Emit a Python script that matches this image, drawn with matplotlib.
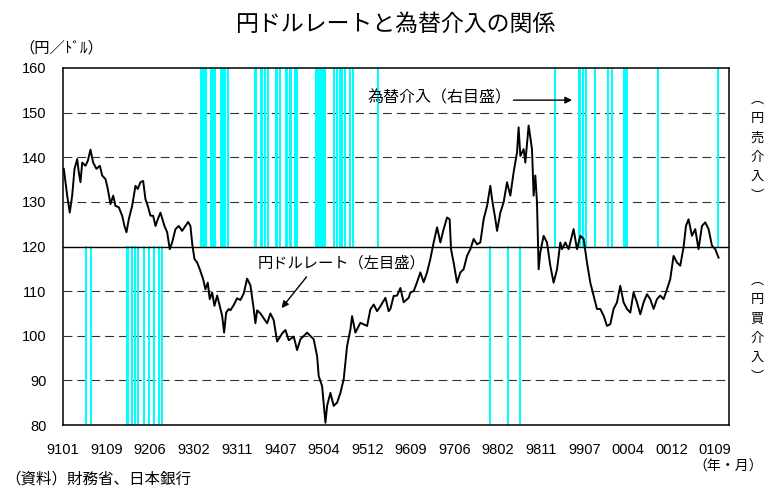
import matplotlib

matplotlib.use("Agg")
import matplotlib.pyplot as plt
import numpy as np

plt.rcParams["font.family"] = ["Noto Sans CJK JP", "DejaVu Sans"]

# yen/dollar rate, x = months counted from 1991-01
rate_month = [
    0.16, 0.49, 0.82, 1.33, 1.80, 2.26, 2.79, 3.10, 3.43, 3.77, 4.41, 4.87, 5.39, 5.92,
    6.57, 7.22, 7.69, 8.34, 8.79, 9.32, 9.85, 10.30, 10.95, 11.61, 12.06, 12.46, 12.91,
    13.57, 14.22, 14.67, 15.20, 15.73, 16.18, 16.64, 17.16, 17.69, 18.15, 18.60, 19.13,
    19.52, 19.91, 20.44, 20.95, 21.42, 22.07, 22.72, 23.38, 24.03, 24.56, 25.01, 25.40,
    25.80, 26.33, 26.84, 27.50, 27.95, 28.41, 28.80, 29.27, 29.72, 30.25, 30.76, 31.23,
    31.62, 32.02, 32.53, 32.86, 33.51, 34.17, 34.82, 35.47, 36.13, 36.78, 37.43, 37.76,
    38.10, 38.74, 39.39, 40.06, 40.70, 41.35, 42.02, 43.00, 43.65, 44.30, 45.28, 45.94,
    46.59, 47.90, 49.20, 49.87, 50.18, 50.85, 51.50, 51.83, 52.48, 53.12, 53.79, 54.44,
    55.08, 55.75, 56.40, 56.73, 57.38, 58.36, 59.68, 60.32, 60.97, 61.64, 62.28, 63.27,
    63.91, 64.25, 64.89, 65.56, 66.21, 66.86, 67.84, 68.17, 68.82, 69.48, 70.13, 70.78,
    71.45, 72.09, 72.74, 73.41, 74.06, 74.70, 75.37, 75.88, 76.15, 76.66, 77.33, 77.98,
    78.62, 79.29, 79.94, 80.59, 81.25, 81.90, 82.55, 83.22, 83.86, 84.20, 84.85, 85.18,
    85.83, 86.47, 87.14, 87.79, 88.43, 89.10, 89.41, 89.75, 90.40, 90.73, 91.38, 92.04,
    92.36, 92.69, 93.02, 93.34, 93.67, 94.32, 94.98, 95.63, 96.28, 96.95, 97.60, 97.93,
    98.58, 99.22, 100.20, 100.87, 101.52, 102.17, 102.83, 103.48, 104.13, 104.79, 105.44,
    106.09, 106.76, 107.40, 108.05, 108.72, 109.36, 110.01, 110.68, 111.33, 111.97,
    112.64, 113.29, 113.94, 114.60, 115.25, 115.90, 116.56, 117.21, 117.86, 118.53,
    119.17, 119.82, 120.49, 121.13, 121.78, 122.25, 122.76, 123.43, 124.08, 124.72,
    125.39, 126.04, 126.69, 127.35, 128.00, 128.65,
]
rate_yen = [
    137.4, 134.4, 131.4, 127.6, 131.4, 137.4, 139.6, 136.6, 134.4, 138.8, 138.1, 139.2, 141.7, 138.8,
    137.4, 138.1, 135.9, 135.1, 132.9, 129.5, 131.4, 129.1, 128.8, 126.9, 124.6, 123.2, 126.1,
    129.1, 133.6, 132.9, 134.4, 134.7, 130.6, 129.1, 126.9, 126.9, 124.6, 126.1, 127.6,
    126.1, 124.6, 123.2, 119.4, 120.9, 123.9, 124.6, 123.5, 124.6, 125.5, 124.6, 120.2,
    117.2, 116.4, 114.9, 112.7, 110.4, 111.9, 108.2, 109.7, 106.7, 109.0, 106.7, 104.5,
    100.7, 105.2, 106.0, 105.7, 106.9, 108.4, 108.0, 109.5, 112.8, 111.3, 106.0, 102.8,
    105.7, 105.0, 103.9, 102.8, 105.0, 103.5, 98.7, 100.5, 101.3, 99.0, 99.8, 96.8,
    99.2, 100.7, 99.2, 95.4, 91.0, 88.7, 80.5, 84.3, 87.2, 84.3, 85.0, 87.2,
    90.2, 97.7, 101.4, 104.4, 100.7, 102.9, 102.2, 105.9, 107.0, 105.5, 106.6, 108.5,
    105.5, 106.0, 108.9, 109.0, 110.7, 107.5, 108.5, 109.7, 110.0, 112.0, 114.2, 112.0,
    114.2, 117.2, 120.9, 124.3, 120.9, 123.9, 126.5, 126.1, 119.4, 116.4, 111.9, 114.2,
    114.9, 117.9, 119.4, 121.7, 120.5, 120.9, 126.1, 129.1, 133.6, 130.6, 126.1, 123.5,
    127.6, 129.9, 134.4, 131.4, 136.6, 141.1, 146.7, 140.3, 141.8, 138.8, 147.1, 141.8,
    131.4, 135.9, 129.9, 114.9, 118.7, 122.4, 120.9, 115.7, 111.9, 114.9, 120.9, 119.4,
    120.9, 119.4, 123.9, 119.4, 122.4, 121.7, 116.4, 111.9, 109.0, 106.0, 106.0,
    104.5, 102.2, 102.6, 106.0, 107.5, 111.2, 107.5, 106.0, 105.2, 109.7,
    107.5, 104.8, 107.5, 109.3, 108.2, 106.0, 108.2, 109.0, 108.2, 110.4,
    112.7, 117.9, 116.4, 115.7, 119.8, 124.6, 126.1, 122.4, 123.9, 119.4,
    124.6, 125.4, 123.9, 120.2, 119.4, 117.5,
]

# intervention periods (months from 1991-01): yen selling / yen buying
sell_start = [26.97, 28.80, 29.72, 30.90, 32.27, 37.43, 38.74, 39.39, 40.02, 41.55, 42.37,
              43.51, 44.30, 45.37, 49.53, 52.97, 53.61, 54.14, 54.54, 55.08, 56.10, 56.69,
              61.56, 96.28, 100.99, 101.85, 102.36, 104.17, 106.76, 107.46, 109.89, 110.19,
              110.54, 116.53, 128.33]
sell_end = [28.29, 29.58, 29.77, 32.07, 32.32, 38.16, 39.20, 39.78, 40.07, 42.18, 42.42,
            44.10, 44.88, 46.14, 51.65, 53.16, 53.85, 54.19, 54.59, 55.56, 56.30, 56.74,
            61.85, 96.33, 101.65, 101.90, 102.41, 104.22, 106.81, 107.74, 109.94, 110.24,
            110.59, 116.58, 128.73]
buy_start = [4.28, 5.30, 12.46, 13.40, 13.93, 14.61, 15.79, 16.71, 17.75, 18.64, 19.17,
             83.53, 87.06, 89.41]
buy_end = [4.33, 5.59, 12.65, 13.63, 14.22, 14.87, 16.03, 17.16, 18.01, 18.93, 19.38,
           83.58, 87.11, 89.46]

tick_labels = ["9101", "9109", "9206", "9302", "9311", "9407", "9504", "9512",
               "9609", "9706", "9802", "9811", "9907", "0004", "0012", "0109"]
y_ticks = [80, 90, 100, 110, 120, 130, 140, 150, 160]

CYAN = "#00FFFF"
W, H = 765, 486
MIN_W = 0.4  # keep one-day interventions visible (~2px)

fig = plt.figure(figsize=(W / 100, H / 100), dpi=100)
ax = fig.add_axes([63 / W, 1 - 425 / H, 666 / W, 357 / H])

# dashed grid
for v in y_ticks[1:-1]:
    if v != 120:
        ax.axhline(v, color="#333333", lw=0.8, ls=(0, (8, 4.5)), zorder=0)

# intervention bars (upper half = yen selling, lower half = yen buying)
ax.bar(sell_start, 40, width=np.maximum(np.subtract(sell_end, sell_start), MIN_W),
       bottom=120, align="edge", color=CYAN, lw=0, antialiased=False, zorder=1)
ax.bar(buy_start, 40, width=np.maximum(np.subtract(buy_end, buy_start), MIN_W),
       bottom=80, align="edge", color=CYAN, lw=0, antialiased=False, zorder=1)

ax.axhline(120, color="black", lw=1.0, zorder=2)
ax.plot(rate_month, rate_yen, color="black", lw=1.4, zorder=3)

ax.set_xlim(0, 130.7)
ax.set_ylim(80, 160)
ax.set_yticks(y_ticks)
ax.set_yticklabels([str(v) for v in y_ticks], family="Liberation Sans", fontsize=10.5)
ax.set_xticks(np.linspace(0, 128, len(tick_labels)))
ax.set_xticklabels(tick_labels, family="Liberation Sans", fontsize=10.5)
ax.tick_params(axis="both", length=0)
ax.tick_params(axis="y", pad=12)
ax.tick_params(axis="x", pad=13)
for s in ax.spines.values():
    s.set_linewidth(1.1)
    s.set_color("black")

# annotations
ax.text(73.8, 153.2, "為替介入（右目盛）", fontsize=11.5, ha="center", va="center")
ax.annotate("", xy=(99.9, 152.8), xytext=(88.4, 152.8),
            arrowprops=dict(arrowstyle="-|>", color="black", lw=1.0, mutation_scale=10,
                            shrinkA=0, shrinkB=0))
ax.text(54.6, 116.2, "円ドルレート（左目盛）", fontsize=11, ha="center", va="center")
ax.annotate("", xy=(42.9, 106.2), xytext=(47.8, 113.2),
            arrowprops=dict(arrowstyle="-|>", color="black", lw=1.0, mutation_scale=10,
                            shrinkA=0, shrinkB=0))

fig.text(396 / W, 1 - 24 / H, "円ドルレートと為替介入の関係", fontsize=16.5,
         ha="center", va="center")
fig.text(19 / W, 1 - 48.5 / H, "（円／ﾄﾞﾙ）", fontsize=11, ha="left", va="center")
fig.text(5 / W, 1 - 479 / H, "（資料）財務省、日本銀行", fontsize=11.2, ha="left", va="center")
fig.text(763 / W, 1 - 467 / H, "（年・月）", fontsize=10, ha="right", va="center")

# vertical side labels
for chars, y0 in (("︵円売介入︶", 99), ("︵円買介入︶", 280)):
    for i, ch in enumerate(chars):
        fig.text(757 / W, 1 - (y0 + 19.5 * i) / H, ch, fontsize=9.5,
                 ha="center", va="center")

fig.savefig("out.png", dpi=100)
